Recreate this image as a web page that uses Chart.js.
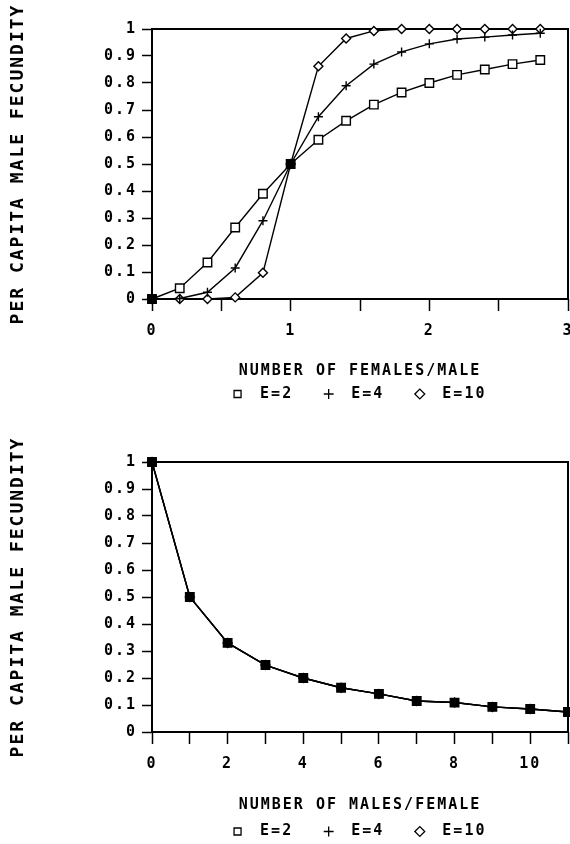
<!DOCTYPE html>
<html>
<head>
<meta charset="utf-8">
<script src="https://cdn.jsdelivr.net/npm/chart.js@4.4.1/dist/chart.umd.min.js"></script>
<style>
  html, body { margin: 0; padding: 0; background: #fff; width: 570px; height: 844px; overflow: hidden; }
  canvas { display: block; }
</style>
</head>
<body>
<canvas id="femalesChart" width="570" height="422"></canvas>
<canvas id="malesChart" width="570" height="430"></canvas>
<script>
// Sex ratio (females per male) and per capita male fecundity for three values of E
const femalesPerMale = [0, 0.2, 0.4, 0.6, 0.8, 1.0, 1.2, 1.4, 1.6, 1.8, 2.0, 2.2, 2.4, 2.6, 2.8];
const fecundityE2  = [0, 0.04, 0.135, 0.265, 0.39, 0.5, 0.59, 0.66, 0.72, 0.765, 0.80, 0.83, 0.85, 0.87, 0.885];
const fecundityE4  = [0, 0.002, 0.025, 0.115, 0.29, 0.5, 0.675, 0.79, 0.87, 0.915, 0.945, 0.963, 0.97, 0.978, 0.984];
const fecundityE10 = [0, 0, 0, 0.006, 0.097, 0.5, 0.862, 0.965, 0.993, 1.0, 1.0, 1.0, 1.0, 1.0, 1.0];

// Males per female: the same curve for every E
const malesPerFemale = [0, 1, 2, 3, 4, 5, 6, 7, 8, 9, 10, 11];
const fecundityByMales = [1.0, 0.5, 0.33, 0.248, 0.2, 0.164, 0.141, 0.115, 0.109, 0.093, 0.085, 0.074];

const seriesLabels = ['E=2', 'E=4', 'E=10'];
const seriesMarkers = ['rect', 'cross', 'rectRot'];
const markerSizes = [6, 4.5, 4.5];

const femalesTickLabels = [0, 1, 2, 3];
const malesTickLabels = [0, 2, 4, 6, 8, 10];
const yTitle = 'PER CAPITA MALE FECUNDITY';

Chart.defaults.font.family = "'DejaVu Sans Mono', 'Liberation Mono', monospace";
Chart.defaults.font.size = 15;
Chart.defaults.font.weight = 'bold';
Chart.defaults.color = '#000';

// Wide, plotter-style lettering
const spacingPlugin = {
  id: 'spacing',
  beforeLayout(chart) { chart.ctx.letterSpacing = '2px'; },
  beforeDraw(chart) { chart.ctx.letterSpacing = '2px'; }
};

// Box around the plotting area
const framePlugin = {
  id: 'frame',
  beforeDatasetsDraw(chart) {
    const { ctx, chartArea: a } = chart;
    ctx.save();
    ctx.lineWidth = 2;
    ctx.strokeStyle = '#000';
    ctx.strokeRect(a.left, a.top, a.right - a.left, a.bottom - a.top);
    ctx.restore();
  }
};

// Where every curve passes through the same point the overlapping markers read as solid
function markerFill(ctx) {
  const i = ctx.dataIndex;
  if (i === undefined) return '#fff';
  const ys = ctx.chart.data.datasets.map(d => d.data[i] ? d.data[i].y : NaN);
  return ys.every(v => v === ys[0]) ? '#000' : '#fff';
}

function makeDatasets(xs, seriesList) {
  return seriesList.map((ys, k) => ({
    label: seriesLabels[k],
    data: xs.map((x, i) => ({ x, y: ys[i] })),
    borderColor: '#000',
    borderWidth: 1.4,
    pointStyle: seriesMarkers[k],
    pointRadius: markerSizes[k],
    pointBorderWidth: 1.4,
    pointBorderColor: '#000',
    pointBackgroundColor: markerFill,
    backgroundColor: '#fff',
    tension: 0,
    clip: false
  }));
}

function makeChart(id, datasets, cfg) {
  return new Chart(document.getElementById(id), {
    type: 'line',
    data: { datasets },
    plugins: [spacingPlugin, framePlugin],
    options: {
      responsive: false,
      animation: false,
      events: [],
      layout: { autoPadding: false, padding: { top: cfg.padTop, right: 2, bottom: cfg.padBottom, left: 0 } },
      scales: {
        x: {
          type: 'linear',
          min: cfg.xMin,
          max: cfg.xMax,
          ticks: {
            stepSize: cfg.xStep,
            autoSkip: false,
            maxRotation: 0,
            padding: 11,
            color: '#000',
            callback: v => (cfg.xLabels.includes(v) ? String(v) : '')
          },
          grid: { drawOnChartArea: false, drawTicks: true, tickLength: 12, tickWidth: 1.5, color: '#000' },
          border: { display: false },
          title: { display: true, text: cfg.xTitle, color: '#000', font: { size: 15 }, padding: { top: 0, bottom: cfg.xTitlePad } },
          afterFit(s) { s.height = cfg.xHeight; s.paddingLeft = 0; s.paddingRight = 0; }
        },
        y: {
          min: 0,
          max: 1,
          ticks: { stepSize: 0.1, padding: 5, color: '#000', callback: v => String(+v.toFixed(1)) },
          grid: { drawOnChartArea: false, drawTicks: true, tickLength: 10, tickWidth: 1.5, color: '#000' },
          border: { display: false },
          title: { display: true, text: yTitle, color: '#000', font: { size: 18 }, padding: { top: 8, bottom: 0 } },
          afterFit(s) { s.width = 152; s.paddingTop = 0; s.paddingBottom = 0; }
        }
      },
      plugins: {
        tooltip: { enabled: false },
        legend: {
          position: 'bottom',
          fullSize: false,
          labels: {
            usePointStyle: true,
            boxWidth: 8,
            boxHeight: 7,
            padding: 31.5,
            color: '#000',
            font: { size: 15 },
            generateLabels(chart) {
              return Chart.defaults.plugins.legend.labels.generateLabels(chart).map(item => ({
                ...item,
                text: ' ' + item.text,
                fillStyle: '#fff',
                strokeStyle: '#000',
                lineWidth: 1.3
              }));
            }
          }
        }
      }
    }
  });
}

makeChart('femalesChart',
  makeDatasets(femalesPerMale, [fecundityE2, fecundityE4, fecundityE10]),
  { padTop: 29, padBottom: 10.5, xMin: 0, xMax: 3, xStep: 0.5, xLabels: femalesTickLabels,
    xTitle: 'NUMBER OF FEMALES/MALE', xHeight: 56, xTitlePad: -25.5 });

makeChart('malesChart',
  makeDatasets(malesPerFemale, [fecundityByMales, fecundityByMales, fecundityByMales]),
  { padTop: 40, padBottom: 3, xMin: 0, xMax: 11, xStep: 1, xLabels: malesTickLabels,
    xTitle: 'NUMBER OF MALES/FEMALE', xHeight: 60.5, xTitlePad: -21.5 });
</script>
</body>
</html>
